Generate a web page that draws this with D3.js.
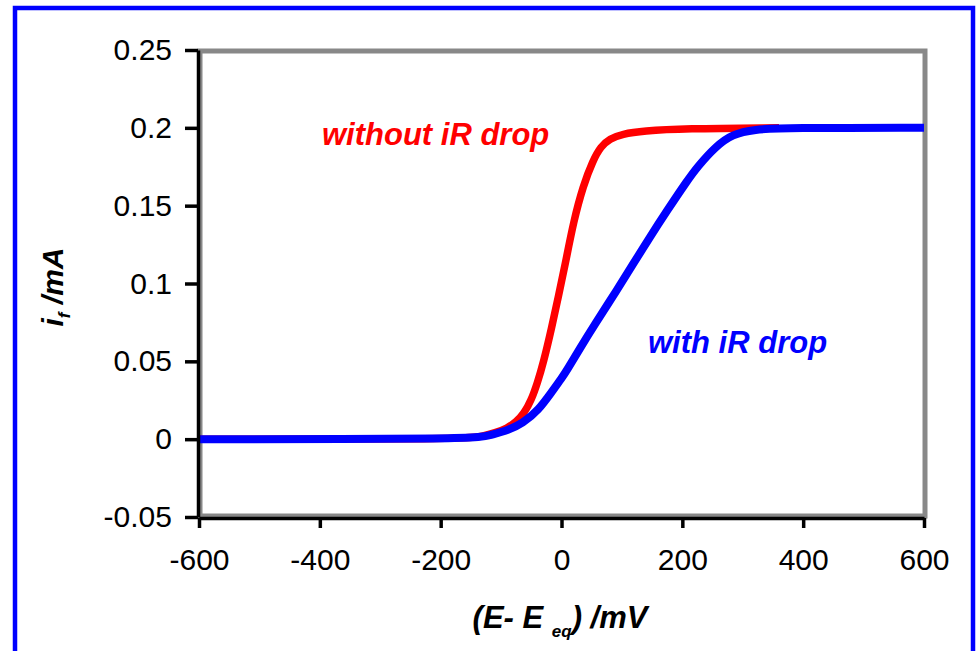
<!DOCTYPE html>
<html>
<head>
<meta charset="utf-8">
<script src="https://cdn.jsdelivr.net/npm/d3@7"></script>
<style>
  body { margin: 0; background: #fff; }
  text { font-family: "Liberation Sans", Arial, sans-serif; }
</style>
</head>
<body>
<div id="chart"></div>
<script>
// potential (mV) and current (mA)
var redE = [-600, -160, -130, -110, -90, -75, -62, -50, -40, -30, -16, -5, 6, 20, 36, 52, 65, 80, 100, 136, 200, 360];
var redI = [0, 0, 0.002, 0.004, 0.007, 0.011, 0.0165, 0.025, 0.036, 0.049, 0.072, 0.092, 0.112, 0.140, 0.163, 0.179, 0.188, 0.193, 0.196, 0.198, 0.1995, 0.2];

var blueE = [-600, -140, -118, -87, -65, -38, -15, 0, 10, 30, 54, 92, 121, 145, 175, 208, 225, 255, 283, 319, 370, 600];
var blueI = [0, 0, 0.0026, 0.006, 0.010, 0.0186, 0.031, 0.039, 0.045, 0.058, 0.073, 0.096, 0.114, 0.129, 0.147, 0.166, 0.175, 0.188, 0.196, 0.199, 0.2, 0.2];

var xTicks = [-600, -400, -200, 0, 200, 400, 600];
var yTicks = [-0.05, 0, 0.05, 0.1, 0.15, 0.2, 0.25];

var svg = d3.select("#chart").append("svg").attr("width", 976).attr("height", 651);

// blue outer frame
svg.append("rect")
  .attr("x", 15).attr("y", 8)
  .attr("width", 958).attr("height", 700)
  .attr("fill", "none")
  .attr("stroke", "#0000ff")
  .attr("stroke-width", 4.5);

var x = d3.scaleLinear().domain([-600, 600]).range([199, 924]);
var y = d3.scaleLinear().domain([-0.05, 0.25]).range([517, 50]);

// gray plot area border
svg.append("rect")
  .attr("x", 200).attr("y", 51)
  .attr("width", 725).attr("height", 465)
  .attr("fill", "none")
  .attr("stroke", "#888888")
  .attr("stroke-width", 5);

var line = d3.line()
  .x(function(d) { return x(d[0]); })
  .y(function(d) { return y(d[1]); })
  .curve(d3.curveBasis);

var red = d3.zip(redE, redI);
var blue = d3.zip(blueE, blueI);

svg.append("path").datum(red)
  .attr("d", line)
  .attr("fill", "none")
  .attr("stroke", "#ff0000")
  .attr("stroke-width", 7.5);

svg.append("path").datum(blue)
  .attr("d", line)
  .attr("fill", "none")
  .attr("stroke", "#0000ff")
  .attr("stroke-width", 8);

// axes
var yAxis = d3.axisLeft(y).tickValues(yTicks).tickSize(13).tickSizeOuter(0).tickPadding(13)
  .tickFormat(function(d) { return String(+d.toFixed(2)); });
var xAxis = d3.axisBottom(x).tickValues(xTicks).tickSize(10).tickSizeOuter(0).tickPadding(21)
  .tickFormat(function(d) { return String(d); });

var gy = svg.append("g").attr("transform", "translate(198,0)").call(yAxis);
var gx = svg.append("g").attr("transform", "translate(0,518)").call(xAxis);

[gx, gy].forEach(function(g) {
  g.selectAll("path, line").attr("stroke", "#000").attr("stroke-width", 3.5);
  g.selectAll("text").attr("fill", "#000").style("font-size", "30px")
    .style("font-family", "'Liberation Sans', Arial, sans-serif");
});

// series labels
svg.append("text")
  .attr("x", 322).attr("y", 145)
  .attr("fill", "#ff0000")
  .style("font-size", "31px").style("font-weight", "bold").style("font-style", "italic")
  .text("without iR drop");

svg.append("text")
  .attr("x", 648).attr("y", 353)
  .attr("fill", "#0000ff")
  .style("font-size", "31px").style("font-weight", "bold").style("font-style", "italic")
  .text("with iR drop");

// axis titles
var yt = svg.append("text")
  .attr("transform", "translate(63,287) rotate(-90)")
  .attr("text-anchor", "middle")
  .style("font-size", "30px").style("font-weight", "bold").style("font-style", "italic");
yt.append("tspan").text("i");
yt.append("tspan").attr("dy", 7).style("font-size", "17px").text("f");
yt.append("tspan").attr("dy", -7).text(" /mA");

var xt = svg.append("text")
  .attr("x", 560).attr("y", 628)
  .attr("text-anchor", "middle")
  .style("font-size", "31px").style("font-weight", "bold").style("font-style", "italic");
xt.append("tspan").text("(E- E ");
xt.append("tspan").attr("dy", 9).style("font-size", "17px").text("eq");
xt.append("tspan").attr("dy", -9).text(") /mV");
</script>
</body>
</html>
